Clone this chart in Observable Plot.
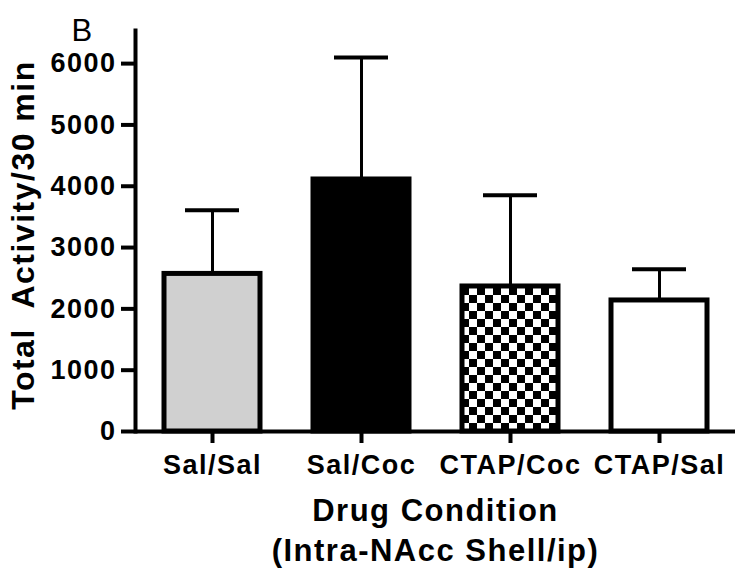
<!DOCTYPE html>
<html><head><meta charset="utf-8">
<script src="https://cdn.jsdelivr.net/npm/d3@7"></script>
<script src="https://cdn.jsdelivr.net/npm/@observablehq/plot@0.6"></script>
<style>body{margin:0;background:#fff}</style>
</head><body><div id="chart"></div>
<script>
const categories = ["Sal/Sal", "Sal/Coc", "CTAP/Coc", "CTAP/Sal"];
const means = [2570, 4110, 2365, 2137];
const sems = [1040, 1990, 1490, 508];
const fills = ["#d0d0d0", "#000000", "url(#checker)", "#ffffff"];
const yTicks = [0, 1000, 2000, 3000, 4000, 5000, 6000];
const yLabel = "Total  Activity/30 min";
const xLabelLines = ["Drug Condition", "(Intra-NAcc Shell/ip)"];
const panelLabel = "B";

const rows = categories.map((c, i) => ({cat: c, mean: means[i], top: means[i] + sems[i]}));

const font = "'Liberation Sans', Arial, Helvetica, sans-serif";

const plot = Plot.plot({
  width: 750,
  height: 580,
  marginLeft: 135,
  marginRight: 15,
  marginTop: 30,
  marginBottom: 149,
  style: {fontFamily: font, fontWeight: "bold", color: "#000", background: "#fff", overflow: "visible"},
  x: {domain: categories, paddingInner: 0.356, paddingOuter: 0.185, label: null},
  y: {domain: [0, 6540], label: null},
  marks: [
    Plot.ruleX(rows, {x: "cat", y1: "mean", y2: "top", stroke: "#000", strokeWidth: 3}),
    ...rows.map((r, i) => Plot.barY([r], {x: "cat", y: "mean", fill: fills[i], stroke: "#000", strokeWidth: 5})),
    Plot.tickY(rows, {x: "cat", y: "top", insetLeft: 21, insetRight: 21, stroke: "#000", strokeWidth: 4}),
    Plot.axisY({ticks: yTicks, tickSize: 14, tickPadding: 5, strokeWidth: 4, fontSize: 27, tickFormat: d => String(d), label: null}),
    Plot.axisX({tickSize: 12, tickPadding: 11, strokeWidth: 4, fontSize: 27, label: null}),
    Plot.ruleY([0], {strokeWidth: 4}),
    Plot.frame({anchor: "left", strokeWidth: 4}),
    Plot.text([yLabel], {frameAnchor: "left", textAnchor: "middle", lineAnchor: "middle", rotate: -90, dx: -112, dy: 4, fontSize: 32, text: d => d}),
    Plot.text([xLabelLines[0]], {frameAnchor: "bottom", lineAnchor: "middle", dy: 80, fontSize: 31, text: d => d}),
    Plot.text([xLabelLines[1]], {frameAnchor: "bottom", lineAnchor: "middle", dy: 120, fontSize: 31, text: d => d}),
    Plot.text([panelLabel], {frameAnchor: "top-left", textAnchor: "start", lineAnchor: "middle", dx: -64, dy: 1, fontSize: 31, fontWeight: "normal", text: d => d})
  ]
});

const svg = d3.select(plot.tagName.toLowerCase() === "svg" ? plot : plot.querySelector("svg"));
const pat = svg.insert("defs", ":first-child").append("pattern")
  .attr("id", "checker").attr("patternUnits", "userSpaceOnUse")
  .attr("x", 461).attr("y", 287).attr("width", 16).attr("height", 16);
pat.append("rect").attr("width", 16).attr("height", 16).attr("fill", "#fff");
pat.append("rect").attr("width", 8).attr("height", 8).attr("fill", "#000");
pat.append("rect").attr("x", 8).attr("y", 8).attr("width", 8).attr("height", 8).attr("fill", "#000");
svg.selectAll("text").each(function() {
  const g = this.closest("[aria-label]");
  const lab = g ? g.getAttribute("aria-label") : "";
  if (/tick label/.test(lab)) this.style.letterSpacing = "1.5px";
  else if (this.textContent !== panelLabel) this.style.letterSpacing = "1.5px";
});

document.getElementById("chart").appendChild(plot);
</script>
</body></html>
